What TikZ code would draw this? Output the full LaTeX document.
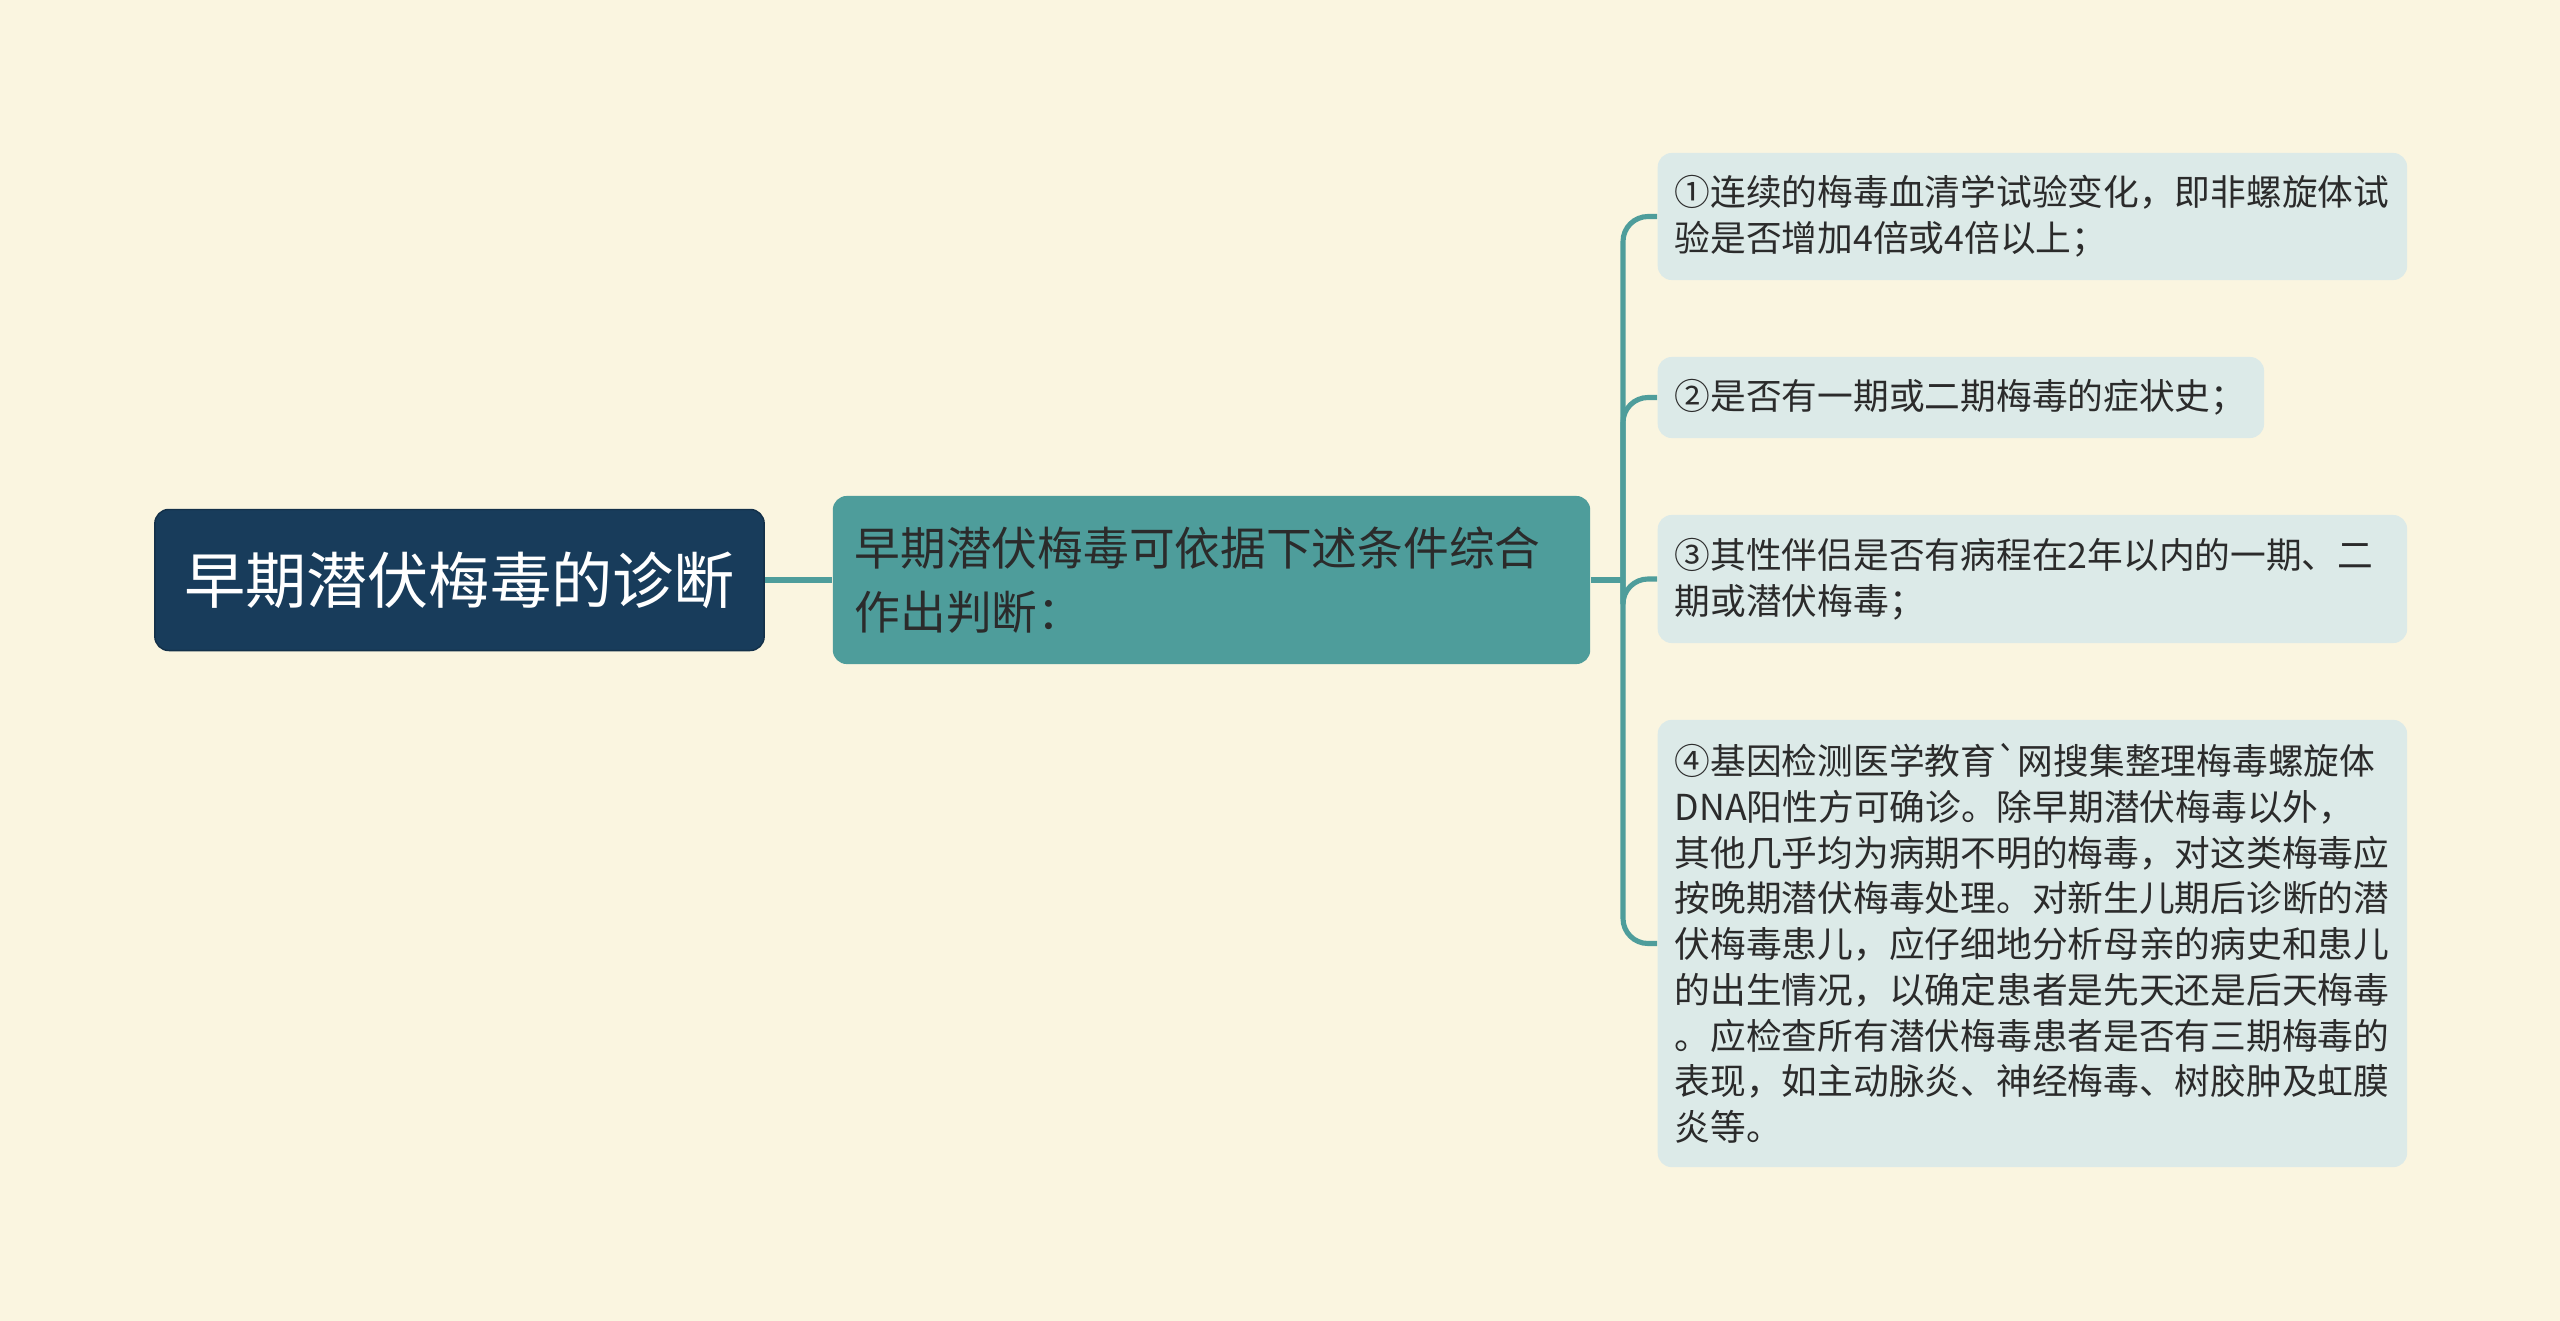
\documentclass[tikz,border=0pt]{standalone}
\usepackage{fontspec}
\setmainfont{Noto Sans CJK SC}
\usetikzlibrary{positioning}
\definecolor{PaperCream}{HTML}{FAF5E0}
\definecolor{RootNavy}{HTML}{183C5B}
\definecolor{MidTeal}{HTML}{4E9D9B}
\definecolor{LeafMist}{HTML}{DCEAE8}
\definecolor{InkGray}{HTML}{2B2B2B}

\begin{document}
\begin{tikzpicture}[x=0.01cm, y=-0.01cm,
		branch/.style={MidTeal, line width=1.45pt, rounded corners=0.25cm},
		rootbox/.style={fill=RootNavy, draw=RootNavy!80!black, rounded corners=0.14cm, text=white, minimum width=6.09cm, minimum height=1.41cm, font=\fontsize{17.4pt}{21pt}\selectfont},
		midbox/.style={fill=MidTeal, rounded corners=0.14cm, text=InkGray, inner xsep=0.22cm, text width=7.13cm, align=left, minimum height=1.68cm, font=\fontsize{13pt}{18.1pt}\selectfont},
		leafbox/.style={fill=LeafMist, rounded corners=0.14cm, text=InkGray, anchor=west, inner xsep=0.17cm, text width=7.15cm, align=left, font=\fontsize{10.16pt}{13pt}\selectfont}]
			\pgfmathsetmacro{\TrunkX}{1623}
			\pgfmathsetmacro{\LeafX}{1657}
			\fill[PaperCream] (0,0) rectangle (2560,1321);
			\useasboundingbox (0,0) rectangle (2560,1321);
			\node[rootbox] (RootNode) at (459.5,580) {早期潜伏梅毒的诊断};
			\node[midbox] (CriteriaNode) at (1211.5,580) {早期潜伏梅毒可依据下述条件综合\\作出判断：};
			\node[leafbox, minimum height=1.27cm] (SerologyLeaf) at (\LeafX,216.5) {①连续的梅毒血清学试验变化，即非螺旋体试\\验是否增加4倍或4倍以上；};
			\node[leafbox, minimum height=0.81cm, text width=5.72cm] (HistoryLeaf) at (\LeafX,397.5) {②是否有一期或二期梅毒的症状史；};
			\node[leafbox, minimum height=1.28cm] (PartnerLeaf) at (\LeafX,579) {③其性伴侣是否有病程在2年以内的一期、二\\期或潜伏梅毒；};
			\node[leafbox, minimum height=4.47cm] (GeneLeaf) at (\LeafX,943.5) {④基因检测医学教育\textasciigrave{}网搜集整理梅毒螺旋体\\DNA阳性方可确诊。除早期潜伏梅毒以外，\\其他几乎均为病期不明的梅毒，对这类梅毒应\\按晚期潜伏梅毒处理。对新生儿期后诊断的潜\\伏梅毒患儿，应仔细地分析母亲的病史和患儿\\的出生情况，以确定患者是先天还是后天梅毒\\。应检查所有潜伏梅毒患者是否有三期梅毒的\\表现，如主动脉炎、神经梅毒、树胶肿及虹膜\\炎等。};
			\coordinate (TrunkJoint) at (\TrunkX,580);
			\draw[branch] (RootNode.east) -- (CriteriaNode.west);
			\draw[branch] (CriteriaNode.east) -- (TrunkJoint);
			\foreach \LeafName in {SerologyLeaf, HistoryLeaf, PartnerLeaf, GeneLeaf}
				\draw[branch] (TrunkJoint) |- (\LeafName.west);
		\end{tikzpicture}
\end{document}
